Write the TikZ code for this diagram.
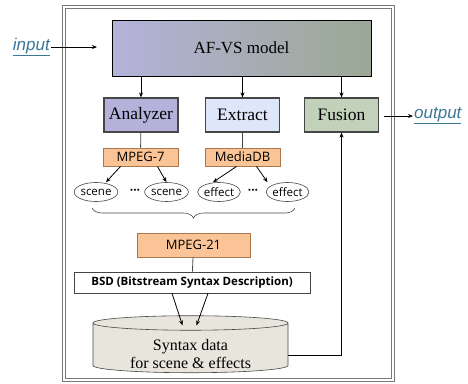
\documentclass[tikz,border=0pt]{standalone}
\usepackage{fontspec}
\setmainfont{Liberation Serif}
\setsansfont{Open Sans}
\newfontfamily\linkfont{Liberation Sans}
\usepackage{tikz}
\usetikzlibrary{arrows.meta,positioning,calc,shapes.geometric,decorations.pathreplacing}
\definecolor{framegray}{RGB}{120,120,120}
\definecolor{edgegray}{RGB}{70,70,70}
\definecolor{lilac}{RGB}{180,178,218}
\definecolor{paleblue}{RGB}{222,230,250}
\definecolor{sage}{RGB}{194,210,186}
\definecolor{peach}{RGB}{250,196,150}
\definecolor{peachedge}{RGB}{170,120,80}
\definecolor{linkblue}{RGB}{60,120,150}
\definecolor{stone}{RGB}{232,230,220}
\tikzset{
  blk/.style={draw=edgegray,line width=1.2pt,font=\fontsize{17.5}{19}\selectfont,minimum width=74pt,minimum height=34pt,inner sep=0pt},
  tag/.style={draw=peachedge,fill=peach,line width=0.9pt,font=\sffamily\fontsize{13}{14}\selectfont,minimum width=75pt,minimum height=18pt,inner sep=0pt},
  item/.style={ellipse,draw=edgegray,line width=0.6pt,fill=white,font=\sffamily\fontsize{11.5}{12}\selectfont,minimum width=42pt,minimum height=19pt,inner sep=0pt},
  dots/.style={font=\sffamily\bfseries\fontsize{12}{12}\selectfont,inner sep=0pt},
  link/.style={font=\linkfont\itshape\fontsize{17}{19}\selectfont,text=linkblue,inner sep=1pt},
  arr/.style={-{Stealth[length=5pt,width=4pt]},draw=black,line width=0.8pt},
  tie/.style={draw=edgegray,line width=0.8pt},
}
\begin{document}
\begin{tikzpicture}[x=1pt,y=-1pt]
  \useasboundingbox (0,0) rectangle (468,383);
  % outer frame
  \draw[framegray,line width=0.8pt,double=white,double distance=2.5pt] (64,7) rectangle (393,380);
  % top model
  \node[draw=black,line width=0.8pt,left color=lilac,middle color=paleblue,right color=sage!80!black,
        minimum width=259pt,minimum height=56pt,font=\fontsize{17}{19}\selectfont] (model) at (241.5,48) {AF-VS model};
  \node[link,anchor=east] (in) at (51,47) {\underline{input}};
  \coordinate (inend) at (97,47);
  \draw[arr] (in.east) -- (inend);
  % blocks
  \node[blk,fill=lilac] (ana) at (141,115) {Analyzer};
  \node[blk,fill=paleblue] (ext) at (242.5,115) {Extract};
  \node[blk,fill=sage] (fus) at (341.5,115) {Fusion};
  \node[link,anchor=west] (out) at (413,116) {\underline{output}};
  \foreach \b in {ana,ext,fus}{\draw[arr] (model.south -| \b) -- (\b.north);}
  \draw[arr] ([xshift=5pt]fus.east |- out.west) -- (out.west);
  % descriptions
  \node[tag] (mp7) at (140.5,157) {MPEG-7};
  \node[tag] (mdb) at (242.5,157) {MediaDB};
  \draw[tie] (ana) -- (mp7);
  \draw[tie] (ext) -- (mdb);
  \node[item] (s1) at (96,192) {scene};
  \node[dots] (d1) at (135,192) {···};
  \node[item] (s2) at (166.5,192) {scene};
  \node[item] (e1) at (219,192) {effect};
  \node[dots] (d2) at (253,192) {···};
  \node[item] (e2) at (287.5,192) {effect};
  \draw[arr] ([xshift=-20pt]mp7.south) -- ([xshift=10pt]s1.north);
  \draw[arr] ([xshift=17pt]mp7.south) -- ([xshift=0pt]s2.north);
  \draw[arr] ([xshift=-6pt]mdb.south) -- ([xshift=-6pt]e1.north);
  \draw[arr] ([xshift=14pt]mdb.south) -- ([xshift=-20pt]e2.north);
  \draw[tie,line width=0.6pt,decorate,decoration={brace,mirror,amplitude=10pt}] (92,208) -- (295,208);
  % MPEG-21 and BSD
  \node[tag,minimum width=113pt,minimum height=24pt] (mp21) at (193.5,245) {MPEG-21};
  \node[draw=edgegray,line width=0.6pt,fill=white,minimum width=236pt,minimum height=21pt,inner sep=0pt,
        font=\sffamily\bfseries\fontsize{11.5}{13}\selectfont] (bsd) at (192,282.5) {BSD (Bitstream Syntax Description)};
  \draw[tie] (mp21) -- (bsd);
  % database
  \node[cylinder,shape border rotate=90,aspect=0.12,draw=edgegray,line width=0.6pt,fill=stone,
        minimum width=195pt,minimum height=57pt,inner sep=0pt] (db) at (190.5,348)
        {\raisebox{-12pt}[0pt][0pt]{\fontsize{16}{18}\selectfont\begin{tabular}{@{}c@{}}Syntax data\\for scene \& effects\end{tabular}}};
  \draw[arr] ([xshift=-20pt]bsd.south) -- ([xshift=-8pt,yshift=-10pt]db.north);
  \draw[arr] ([xshift=16pt]bsd.south) -- ([xshift=6pt,yshift=-10pt]db.north);
  \draw[arr] ([yshift=-7pt]db.east) -| (fus.south);
\end{tikzpicture}
\end{document}
